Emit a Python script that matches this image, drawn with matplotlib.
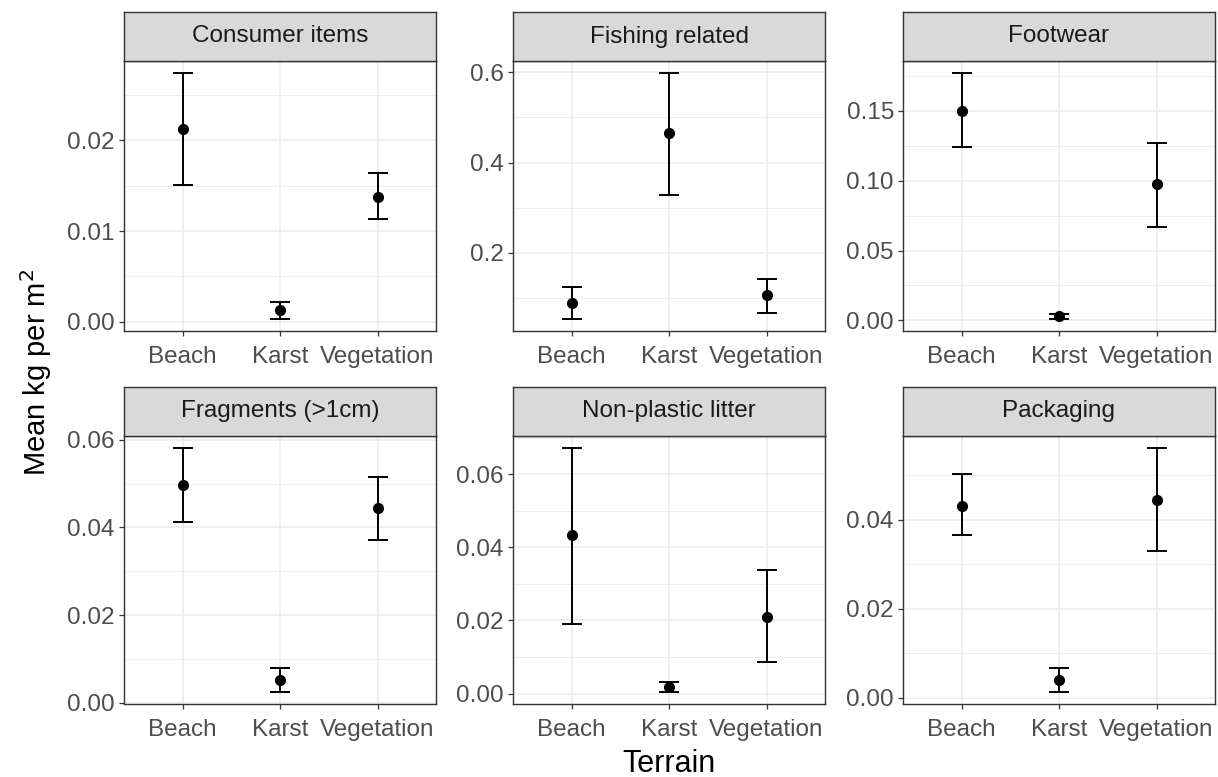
import numpy as np
import matplotlib
matplotlib.use("Agg")
import matplotlib.pyplot as plt

plt.rcParams["font.family"] = ["Liberation Sans", "DejaVu Sans"]

# data
terrain = ["Beach", "Karst", "Vegetation"]
panels = ["Consumer items", "Fishing related", "Footwear",
          "Fragments (>1cm)", "Non-plastic litter", "Packaging"]

means = [
    [0.0213, 0.00125, 0.0138],
    [0.089, 0.466, 0.107],
    [0.150, 0.0029, 0.0973],
    [0.0498, 0.0051, 0.0444],
    [0.0434, 0.0019, 0.0210],
    [0.0431, 0.0039, 0.0445],
]
lowers = [
    [0.0151, 0.00033, 0.01136],
    [0.054, 0.329, 0.067],
    [0.1242, 0.0012, 0.0672],
    [0.0413, 0.0025, 0.0372],
    [0.0191, 0.0005, 0.0086],
    [0.0365, 0.0013, 0.0329],
]
uppers = [
    [0.0274, 0.00217, 0.01643],
    [0.1247, 0.598, 0.1424],
    [0.1769, 0.0048, 0.1270],
    [0.0581, 0.0079, 0.0515],
    [0.0671, 0.0032, 0.0337],
    [0.0502, 0.0067, 0.0561],
]

y_ticks = [
    [0.00, 0.01, 0.02],
    [0.2, 0.4, 0.6],
    [0.00, 0.05, 0.10, 0.15],
    [0.00, 0.02, 0.04, 0.06],
    [0.00, 0.02, 0.04, 0.06],
    [0.00, 0.02, 0.04],
]
y_decimals = [2, 1, 2, 2, 2, 2]

W, H = 1218, 777
fig = plt.figure(figsize=(W / 100, H / 100), dpi=100)

col_left = [124, 513, 903]
panel_w = 312
row_top = [61, 436]      # top of plotting area (px from top)
panel_h = [270, 268]
strip_h = 49

dark = "#333333"
grey_txt = "#4D4D4D"
grid_c = "#EBEBEB"

for i, name in enumerate(panels):
    r, c = divmod(i, 3)
    x0 = col_left[c] / W
    y0 = (H - row_top[r] - panel_h[r]) / H
    ax = fig.add_axes([x0, y0, panel_w / W, panel_h[r] / H])

    x = np.arange(1, len(terrain) + 1)
    m = np.array(means[i])
    lo = np.array(lowers[i])
    hi = np.array(uppers[i])
    ax.errorbar(x, m, yerr=[m - lo, hi - m], fmt="none", ecolor="black",
                elinewidth=1.4, capsize=7, capthick=1.4, zorder=3)
    ax.plot(x, m, "o", color="black", markersize=7, zorder=4)

    ticks = y_ticks[i]
    step = ticks[1] - ticks[0]
    minor = [t - step / 2 for t in ticks] + [ticks[-1] + step / 2]
    ax.set_yticks(ticks)
    ax.set_yticklabels([f"{t:.{y_decimals[i]}f}" for t in ticks])
    ax.set_yticks(minor, minor=True)
    ax.set_xticks(x)
    ax.set_xticklabels(terrain)

    # ggplot-style 5% expansion, set after the ticks so they don't widen it
    dmin, dmax = lo.min(), hi.max()
    pad = 0.05 * (dmax - dmin)
    ax.set_ylim(dmin - pad, dmax + pad)
    ax.set_xlim(0.4, len(terrain) + 0.6)

    ax.grid(True, which="major", color=grid_c, lw=1.1, zorder=0)
    ax.grid(True, which="minor", axis="y", color=grid_c, lw=0.6, zorder=0)
    ax.set_axisbelow(True)
    ax.tick_params(which="major", length=3.5, width=0.9, color=dark,
                   labelsize=17.5, labelcolor=grey_txt, pad=3)
    ax.tick_params(axis="x", which="major", pad=7)
    ax.tick_params(which="minor", length=0)
    for s in ax.spines.values():
        s.set_color(dark)
        s.set_linewidth(1.0)

    # facet strip
    sax = fig.add_axes([x0, (H - row_top[r]) / H, panel_w / W, strip_h / H])
    sax.set_facecolor("#D9D9D9")
    sax.set_xticks([])
    sax.set_yticks([])
    for s in sax.spines.values():
        s.set_color(dark)
        s.set_linewidth(1.0)
    sax.text(0.5, 0.5, name, ha="center", va="center", fontsize=17.5,
             color="#1A1A1A", transform=sax.transAxes)

fig.text(669 / W, 1 - 764 / H, "Terrain", ha="center", va="center",
         fontsize=22)
fig.text(36 / W, 1 - 372 / H, "Mean kg per m$^2$", ha="center", va="center",
         rotation=90, fontsize=21)

fig.savefig("out.png", dpi=100)
